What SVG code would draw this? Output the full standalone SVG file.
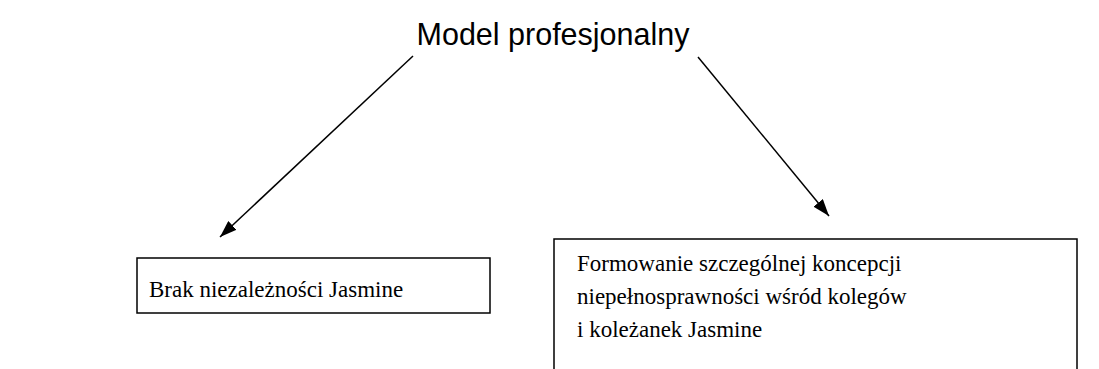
<svg xmlns="http://www.w3.org/2000/svg" width="1099" height="369" viewBox="0 0 1099 369">
<style>
.title{font-family:"Liberation Sans",Arial,sans-serif;font-size:30.5px;fill:#000}
.lbl{font-family:"Liberation Serif","Times New Roman",serif;font-size:23px;fill:#000}
.box{fill:#fff;stroke:#000;stroke-width:1.5}
.edge{stroke:#000;stroke-width:1.5;fill:none}
</style>
<defs>
<marker id="ah" viewBox="0 0 17 12" refX="17" refY="6" markerWidth="17" markerHeight="12" markerUnits="userSpaceOnUse" orient="auto">
<path d="M0,0 L17,6 L0,12 Z" fill="#000"/>
</marker>
</defs>
<rect width="1099" height="369" fill="#fff"/>
<g id="title">
<text class="title" x="553" y="45" text-anchor="middle">Model profesjonalny</text>
</g>
<g id="connectors">
<line class="edge" x1="413" y1="56" x2="220" y2="237" marker-end="url(#ah)"/>
<line class="edge" x1="698" y1="57" x2="829" y2="216" marker-end="url(#ah)"/>
</g>
<g id="node-left">
<rect class="box" x="137" y="258" width="353" height="55"/>
<text class="lbl" x="149" y="297">Brak niezależności Jasmine</text>
</g>
<g id="node-right">
<rect class="box" x="554" y="239" width="523" height="140"/>
<text class="lbl" x="577" y="271">Formowanie szczególnej koncepcji</text>
<text class="lbl" x="577" y="304">niepełnosprawności wśród kolegów</text>
<text class="lbl" x="577" y="337">i koleżanek Jasmine</text>
</g>
</svg>
